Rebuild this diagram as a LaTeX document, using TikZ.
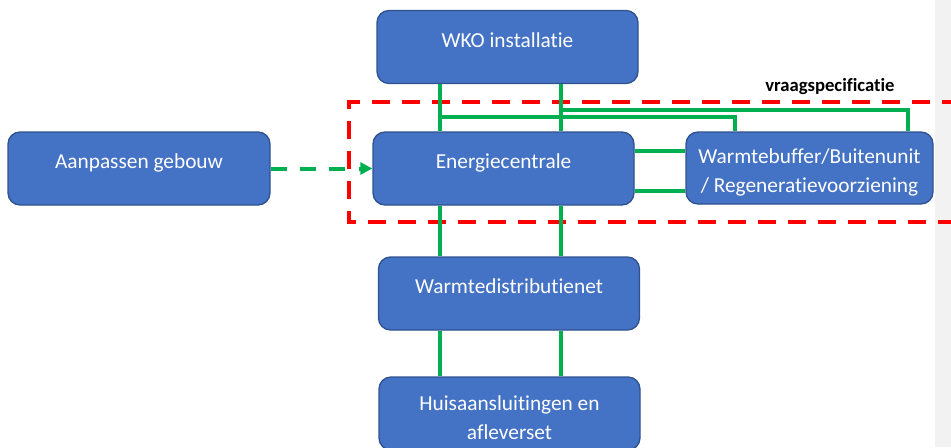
\documentclass[tikz,border=0pt]{standalone}
\usepackage{fontspec}
\setmainfont{Carlito}[Ligatures=NoCommon]
\usetikzlibrary{arrows.meta}
\usetikzlibrary{positioning}
\definecolor{blokColor}{HTML}{4472C4}
\definecolor{randColor}{HTML}{2F528F}
\definecolor{leidingColor}{HTML}{00B050}
\definecolor{kaderColor}{HTML}{FF0000}
\definecolor{balkColor}{HTML}{F2F2F2}
\tikzset{>={Triangle[length=9pt,width=9pt]}}
\tikzset{
	blokbasis/.style={draw=randColor, line width=1pt, fill=blokColor, rounded corners=9pt,
		text=white, font=\fontsize{16}{21.75}\selectfont, inner sep=0pt,
		minimum width=195.75pt, minimum height=54.75pt},
	blok/.style={blokbasis, text height=10pt, text depth=10pt},
	blok2/.style={blokbasis, align=center, text height=39.2pt},
	leiding/.style={leidingColor, line width=3pt},
	pijl/.style={->, leidingColor, line width=3pt, dash pattern=on 12pt off 10pt},
	kader/.style={kaderColor, line width=3.4pt, dash pattern=on 13.5pt off 9pt}
}

\begin{document}
\begin{tikzpicture}[x=0.75pt, y=-0.75pt]
				\useasboundingbox (0,0) rectangle (951,447);
				\fill[balkColor] (935,0) rectangle (951,447);
				\node[blok] (wko) at (507.5,47) {WKO installatie};
				\node[blok] (energie) at (503.5,168.5) {Energiecentrale};
				\node[blok, minimum width=196.5pt] (aanpassen) at (139,168.5) {Aanpassen gebouw};
				\node[blok2, minimum width=185.25pt, minimum height=54pt] (buffer) at (809.5,168) {Warmtebuffer/Buitenunit\\/ Regeneratievoorziening};
				\node[blok] (distributie) at (509,293.5) {Warmtedistributienet};
				\node[blok2] (huis) at (509.5,413.5) {Huisaansluitingen en\\afleverset};
				\node[anchor=base west, inner sep=0pt, font=\bfseries\fontsize{14}{16}\selectfont] (vraag) at (765,91) {vraagspecificatie};
				
				\draw[pijl] (aanpassen) -- (energie);
				\draw[kader] (960,102) -- (349,102) -- (349,222) -- (960,222);
				
				\coordinate (L) at (440,0);
				\coordinate (R) at (561,0);
				\coordinate (takA) at (735,117);
				\coordinate (takB) at (908,110);
				\coordinate (H1) at (0,151);
				\coordinate (H2) at (0,191);
				\draw[leiding] (wko.south -| L) -- (energie.north -| L);
				\draw[leiding] (wko.south -| R) -- (energie.north -| R);
				\draw[leiding] (takA -| L) -- (takA) -- (buffer.north -| takA);
				\draw[leiding] (takB -| R) -- (takB) -- (buffer.north -| takB);
				\draw[leiding] (energie.east |- H1) -- (buffer.west |- H1);
				\draw[leiding] (energie.east |- H2) -- (buffer.west |- H2);
				\draw[leiding] (energie.south -| L) -- (distributie.north -| L);
				\draw[leiding] (energie.south -| R) -- (distributie.north -| R);
				\draw[leiding] (distributie.south -| L) -- (huis.north -| L);
				\draw[leiding] (distributie.south -| R) -- (huis.north -| R);
				%\draw[kader] (349,102) rectangle (960,222);
				\end{tikzpicture}
\end{document}
